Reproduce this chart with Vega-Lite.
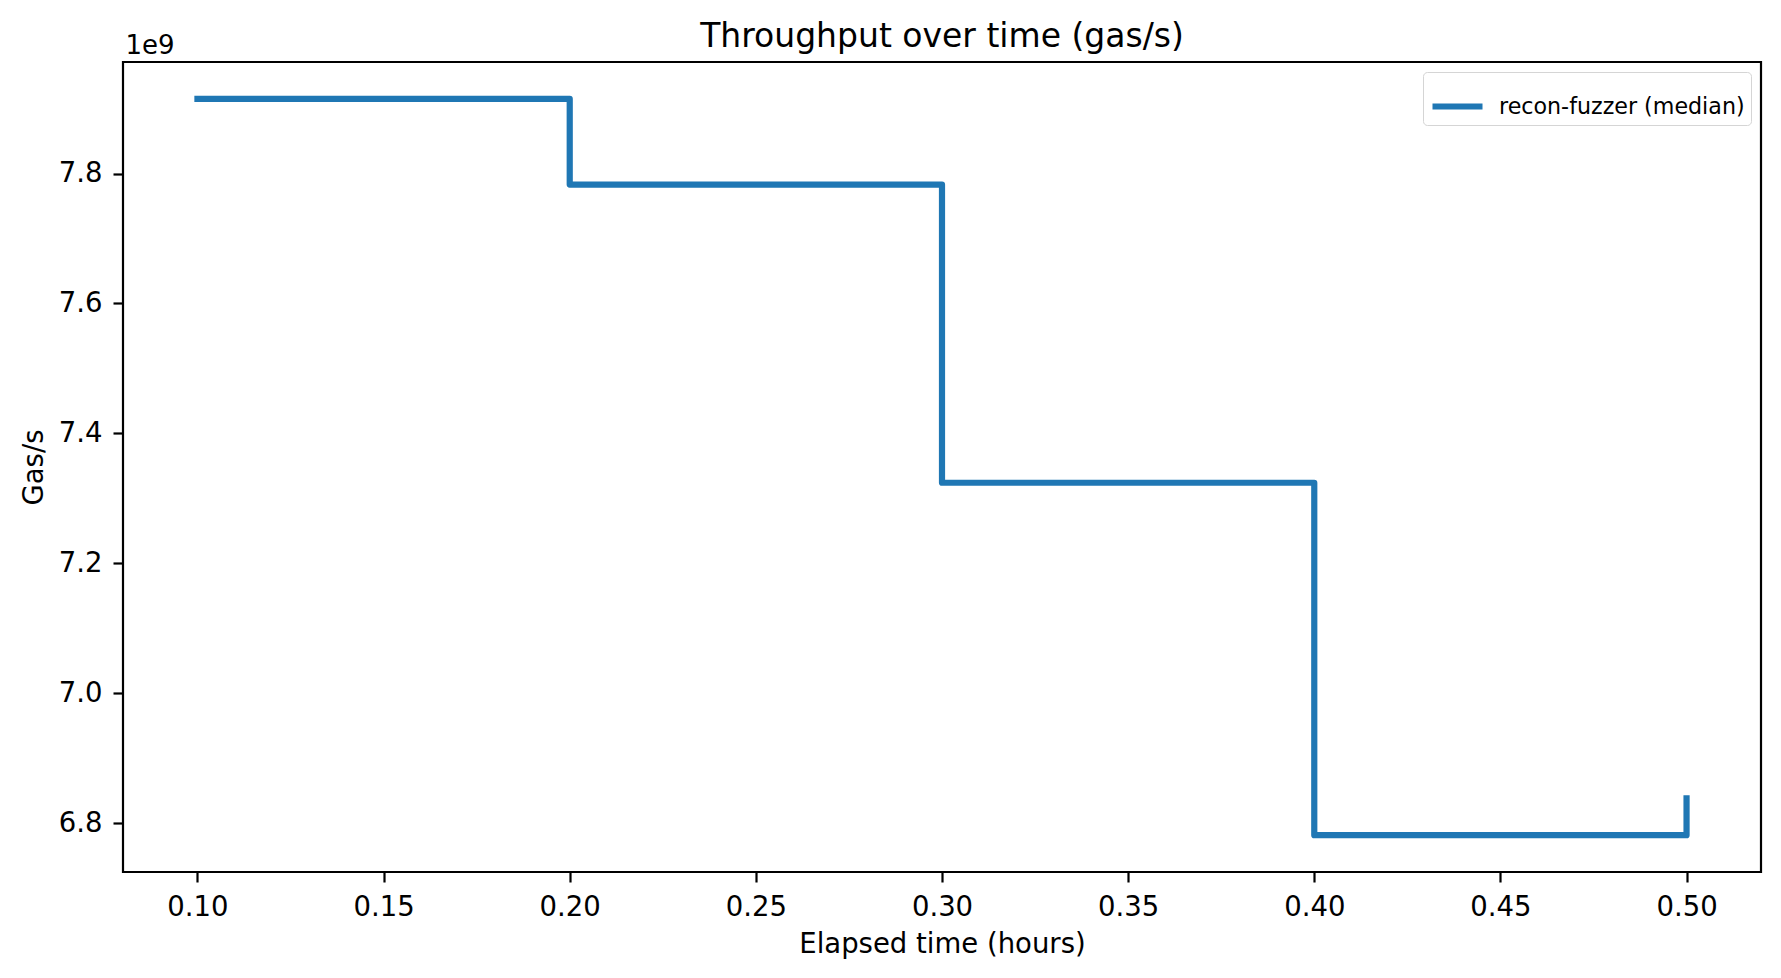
{
  "$schema": "https://vega.github.io/schema/vega-lite/v6.json",
  "autosize": {"type": "none"},
  "padding": {"left": 123, "top": 62, "right": 20, "bottom": 106},
  "width": 1638,
  "height": 810,
  "background": "white",
  "title": {
    "text": "Throughput over time (gas/s)",
    "anchor": "middle",
    "frame": "group",
    "font": "DejaVu Sans",
    "fontSize": 33,
    "fontWeight": "normal",
    "color": "#000000",
    "baseline": "alphabetic",
    "offset": -48
  },
  "data": {
    "values": [
      {"hours": 0.1, "gas": 7915000000, "series": "recon-fuzzer (median)"},
      {"hours": 0.2, "gas": 7783000000, "series": "recon-fuzzer (median)"},
      {"hours": 0.3, "gas": 7324000000, "series": "recon-fuzzer (median)"},
      {"hours": 0.4, "gas": 6781500000, "series": "recon-fuzzer (median)"},
      {"hours": 0.5, "gas": 6838000000, "series": "recon-fuzzer (median)"}
    ]
  },
  "layer": [
    {
      "mark": {
        "type": "line",
        "interpolate": "step-after",
        "strokeWidth": 6.2,
        "strokeCap": "square",
        "strokeJoin": "round"
      },
      "encoding": {
        "x": {
          "field": "hours",
          "type": "quantitative",
          "scale": {"domain": [0.08, 0.52], "nice": false, "zero": false},
          "axis": {
            "title": "Elapsed time (hours)",
            "values": [0.1, 0.15, 0.2, 0.25, 0.3, 0.35, 0.4, 0.45, 0.5],
            "format": ".2f",
            "labelPadding": 11,
            "titlePadding": 10
          }
        },
        "y": {
          "field": "gas",
          "type": "quantitative",
          "scale": {"domain": [6724800000, 7971700000], "nice": false, "zero": false},
          "axis": {
            "title": "Gas/s",
            "values": [6800000000, 7000000000, 7200000000, 7400000000, 7600000000, 7800000000],
            "labelExpr": "format(datum.value / 1e9, '.1f')",
            "labelPadding": 11,
            "titlePadding": 10
          }
        },
        "color": {
          "field": "series",
          "type": "nominal",
          "scale": {"range": ["#1f77b4"]},
          "legend": {
            "title": null,
            "orient": "top-right",
            "offset": 10,
            "padding": 6,
            "symbolType": "stroke",
            "symbolSize": 2500,
            "symbolStrokeWidth": 6.2,
            "labelOffset": 13,
            "labelFontSize": 22.2,
            "labelFont": "DejaVu Sans",
            "labelColor": "#000000",
            "labelLimit": 0,
            "strokeColor": "#d5d5d5",
            "fillColor": "#ffffff",
            "cornerRadius": 4
          }
        }
      }
    },
    {
      "mark": {"type": "line", "opacity": 0},
      "encoding": {
        "x": {
          "field": "hours",
          "type": "quantitative",
          "axis": {
            "orient": "top",
            "title": "1e9",
            "labels": false,
            "ticks": false,
            "domain": false,
            "titleAnchor": "start",
            "titleAngle": 0,
            "titleAlign": "left",
            "titleBaseline": "alphabetic",
            "titleFontSize": 26,
            "titlePadding": 9,
            "titleX": 2
          }
        },
        "y": {"field": "gas", "type": "quantitative"}
      }
    }
  ],
  "resolve": {"axis": {"x": "independent"}},
  "config": {
    "font": "DejaVu Sans",
    "view": {"stroke": "#000000", "strokeWidth": 2.2},
    "axis": {
      "grid": false,
      "domain": false,
      "tickColor": "#000000",
      "tickWidth": 2.2,
      "tickSize": 10,
      "labelFont": "DejaVu Sans",
      "labelFontSize": 27.5,
      "labelColor": "#000000",
      "titleFont": "DejaVu Sans",
      "titleFontSize": 27.5,
      "titleFontWeight": "normal",
      "titleColor": "#000000"
    }
  }
}
